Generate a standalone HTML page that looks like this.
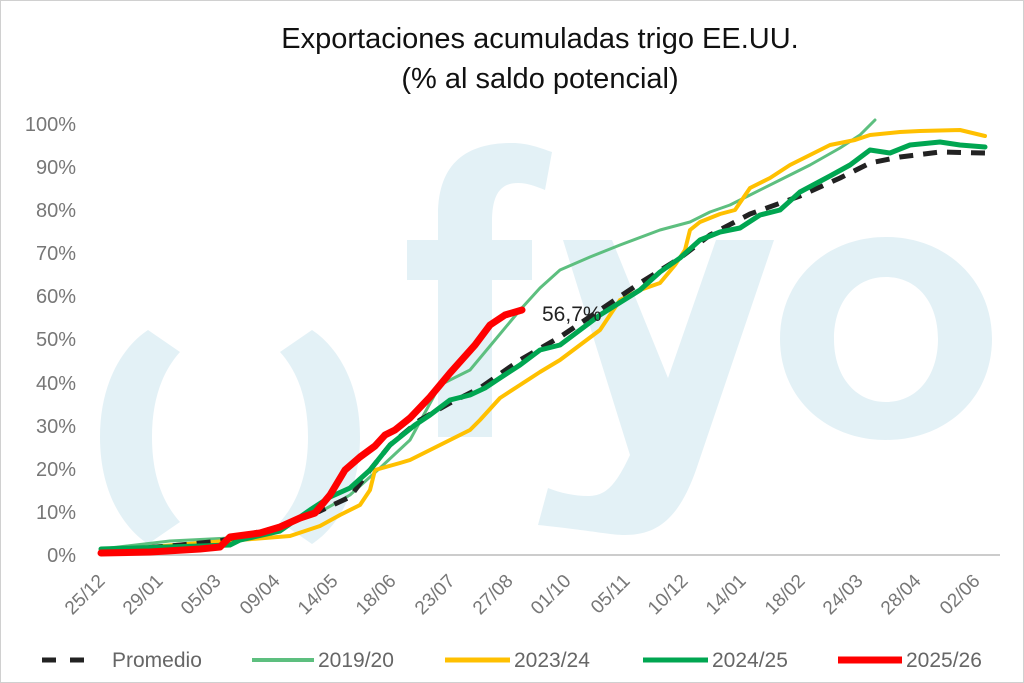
<!DOCTYPE html>
<html><head><meta charset="utf-8"><style>
html,body{margin:0;padding:0;background:#fff}
svg{display:block}
text{font-family:"Liberation Sans",sans-serif}
</style></head><body>
<svg width="1024" height="683" viewBox="0 0 1024 683" xmlns="http://www.w3.org/2000/svg">
<rect x="0.5" y="0.5" width="1023" height="682" fill="#fff" stroke="#d0d0d0"/>
<!-- watermark -->
<g fill="#e3f1f6">
<path d="M100,437 C100,380 125,345 148,330 L180,352 C162,372 152,400 152,437 C152,474 162,502 180,522 L148,544 C125,529 100,494 100,437Z"/>
<path d="M360,437 C360,380 335,345 312,330 L280,352 C298,372 308,400 308,437 C308,474 298,502 280,522 L312,544 C335,529 360,494 360,437Z"/>
<path d="M438,437 L438,280 L407,280 L407,240 L438,240 L438,215 C438,160 470,143 512,143 C528,143 540,148 552,152 L545,190 C535,186 527,183 518,183 C500,183 492,195 492,222 L492,240 L532,240 L532,280 L492,280 L492,437Z"/>
<path d="M563,240 L612,240 L668,378 L716,240 L774,240 L696,470 C680,515 660,535 625,535 C610,535 595,531 538,525 L548,488 C560,493 575,496 588,496 C605,496 615,487 630,455Z"/>
<path fill-rule="evenodd" d="M886,237 C946,237 992,280 992,339 C992,398 946,440 886,440 C826,440 780,398 780,339 C780,280 826,237 886,237Z M886,277 C855,277 834,302 834,339 C834,376 855,402 886,402 C917,402 938,376 938,339 C938,302 917,277 886,277Z"/>
</g>
<!-- title -->
<text x="540" y="48" font-size="29" text-anchor="middle" fill="#111">Exportaciones acumuladas trigo EE.UU.</text>
<text x="540" y="88" font-size="29" text-anchor="middle" fill="#111">(% al saldo potencial)</text>
<!-- y labels -->
<g font-size="20" fill="#777" text-anchor="end">
<text x="76" y="562">0%</text><text x="76" y="519">10%</text><text x="76" y="476">20%</text><text x="76" y="433">30%</text><text x="76" y="390">40%</text><text x="76" y="346">50%</text><text x="76" y="303">60%</text><text x="76" y="260">70%</text><text x="76" y="217">80%</text><text x="76" y="174">90%</text><text x="76" y="131">100%</text>
</g>
<line x1="101" y1="555" x2="1000" y2="555" stroke="#bbb" stroke-width="1.5"/>
<!-- x labels -->
<g font-size="19" fill="#777" text-anchor="end">
<text transform="translate(106,582) rotate(-45)">25/12</text>
<text transform="translate(164,582) rotate(-45)">29/01</text>
<text transform="translate(222,582) rotate(-45)">05/03</text>
<text transform="translate(281,582) rotate(-45)">09/04</text>
<text transform="translate(339,582) rotate(-45)">14/05</text>
<text transform="translate(397,582) rotate(-45)">18/06</text>
<text transform="translate(456,582) rotate(-45)">23/07</text>
<text transform="translate(514,582) rotate(-45)">27/08</text>
<text transform="translate(572,582) rotate(-45)">01/10</text>
<text transform="translate(631,582) rotate(-45)">05/11</text>
<text transform="translate(689,582) rotate(-45)">10/12</text>
<text transform="translate(747,582) rotate(-45)">14/01</text>
<text transform="translate(806,582) rotate(-45)">18/02</text>
<text transform="translate(864,582) rotate(-45)">24/03</text>
<text transform="translate(922,582) rotate(-45)">28/04</text>
<text transform="translate(981,582) rotate(-45)">02/06</text>
</g>
<g fill="none" stroke-linejoin="round" stroke-linecap="round">
<polyline stroke="#5dbf7f" stroke-width="3" points="101,549 170,541 230,538 280,528 320,512 350,495 380,468 410,440 440,385 470,370 495,340 520,310 540,288 560,270 590,257 620,245 660,230 690,222 710,212 730,205 750,195 780,180 810,165 840,148 860,135 875,120"/>
<polyline stroke="#ffc000" stroke-width="4" points="101,551 200,543 240,540 290,536 320,526 340,515 360,505 370,490 375,470 400,463 410,460 430,450 450,440 470,430 480,420 500,398 520,385 540,372 560,360 580,345 600,330 620,300 640,290 660,283 675,265 685,250 690,230 700,222 720,214 735,210 750,188 770,178 790,165 810,155 830,145 855,140 870,135 900,132 920,131 960,130 985,136"/>
<polyline stroke="#222" stroke-width="5" stroke-dasharray="14,10" stroke-linecap="butt" points="101,551 170,546 220,541 280,527 320,511 350,497 370,470 390,445 420,420 450,403 480,388 520,360 560,337 600,310 640,283 680,258 710,235 750,214 800,196 840,178 870,163 900,157 940,152 985,153"/>
<polyline stroke="#00a651" stroke-width="5" points="101,549 200,546 230,545 240,540 280,531 310,510 330,497 350,488 370,470 390,445 415,425 430,415 450,400 470,395 485,388 500,378 520,365 540,350 560,345 580,330 600,315 640,290 660,272 680,258 700,240 720,232 740,228 760,215 780,210 800,192 830,176 850,165 870,150 890,153 910,145 940,142 960,145 985,147"/>
<polyline stroke="#ff0000" stroke-width="7" points="101,553 150,552 200,549 220,547 230,537 260,533 280,527 300,518 315,513 330,495 345,470 360,457 375,446 385,435 395,430 410,418 430,397 450,373 475,345 490,325 505,315 522,310"/>
</g>
<text x="542" y="321" font-size="21" fill="#222">56,7%</text>
<!-- legend -->
<g font-size="21" fill="#666">
<line x1="42" y1="660" x2="98" y2="660" stroke="#222" stroke-width="5" stroke-dasharray="14,14"/>
<text x="112" y="667">Promedio</text>
<line x1="252" y1="660" x2="314" y2="660" stroke="#5dbf7f" stroke-width="4"/>
<text x="318" y="667">2019/20</text>
<line x1="445" y1="660" x2="510" y2="660" stroke="#ffc000" stroke-width="5"/>
<text x="514" y="667">2023/24</text>
<line x1="643" y1="660" x2="708" y2="660" stroke="#00a651" stroke-width="5"/>
<text x="712" y="667">2024/25</text>
<line x1="838" y1="660" x2="902" y2="660" stroke="#ff0000" stroke-width="7"/>
<text x="906" y="667">2025/26</text>
</g>
</svg>
</body></html>
